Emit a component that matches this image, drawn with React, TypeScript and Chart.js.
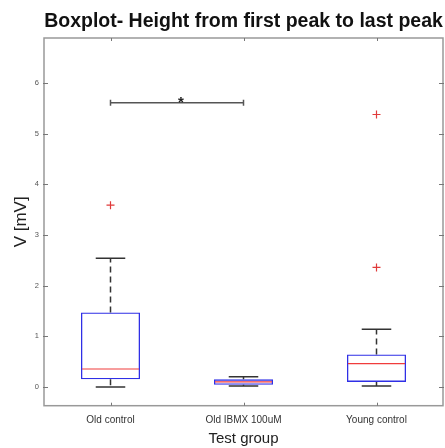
import React, { useEffect, useRef } from 'react';
import { Chart, registerables } from 'chart.js';

Chart.register(...registerables);

const titleText = 'Boxplot- Height from first peak to last peak';
const xTitle = 'Test group';
const yTitle = 'V [mV]';

const categories = ['Old control', 'Old IBMX 100uM', 'Young control'];
const q1 = [0.15, 0.045, 0.1];
const medians = [0.355, 0.1, 0.46];
const q3 = [1.47, 0.15, 0.64];
const whiskerLow = [0.0, 0.02, 0.02];
const whiskerHigh = [2.54, 0.2, 1.14];

const outlierGroups = ['Old control', 'Young control', 'Young control'];
const outlierValues = [3.59, 5.38, 2.36];

const sigFrom = ['Old control'];
const sigTo = ['Old IBMX 100uM'];
const sigLevel = [5.61];
const sigLabel = ['*'];

const yTicks = [0, 1, 2, 3, 4, 5, 6];
const yMin = -0.37;
const yMax = 6.89;

const FONT = "'Liberation Sans', Arial, Helvetica, sans-serif";

export default function App() {
  const ref = useRef<HTMLCanvasElement>(null);

  useEffect(() => {
    document.body.style.margin = '0';
    if (!ref.current) return;

    const extras = {
      id: 'boxExtras',
      beforeDatasetsDraw(chart: any) {
        const { ctx, chartArea: a, scales } = chart;
        const x = scales.x;
        const y = scales.y;
        ctx.save();
        // frame
        ctx.strokeStyle = '#999';
        ctx.lineWidth = 1.5;
        ctx.strokeRect(a.left, a.top, a.right - a.left, a.bottom - a.top);
        // inner ticks
        ctx.lineWidth = 1;
        ctx.strokeStyle = '#777';
        ctx.beginPath();
        yTicks.forEach((v) => {
          const py = Math.round(y.getPixelForValue(v)) + 0.5;
          ctx.moveTo(a.left - 1, py);
          ctx.lineTo(a.left + 4, py);
          ctx.moveTo(a.right + 1, py);
          ctx.lineTo(a.right - 4, py);
        });
        categories.forEach((_c, i) => {
          const px = Math.round(x.getPixelForValue(i)) + 0.5;
          ctx.moveTo(px, a.top);
          ctx.lineTo(px, a.top + 3);
          ctx.moveTo(px, a.bottom);
          ctx.lineTo(px, a.bottom - 3);
        });
        ctx.stroke();
        ctx.restore();
      },
      afterDatasetsDraw(chart: any) {
        const { ctx, scales } = chart;
        const x = scales.x;
        const y = scales.y;
        const meta = chart.getDatasetMeta(0);
        ctx.save();
        categories.forEach((_c, i) => {
          const bar: any = meta.data[i];
          const cx = x.getPixelForValue(i);
          const half = bar.width / 2;
          const yq1 = y.getPixelForValue(q1[i]);
          const yq3 = y.getPixelForValue(q3[i]);
          const ylo = y.getPixelForValue(whiskerLow[i]);
          const yhi = y.getPixelForValue(whiskerHigh[i]);
          const ymed = y.getPixelForValue(medians[i]);
          // dashed whiskers
          ctx.strokeStyle = '#333';
          ctx.lineWidth = 1.5;
          ctx.setLineDash([6, 4]);
          ctx.beginPath();
          ctx.moveTo(cx, yq3);
          ctx.lineTo(cx, yhi);
          ctx.moveTo(cx, yq1);
          ctx.lineTo(cx, ylo);
          ctx.stroke();
          ctx.setLineDash([]);
          // caps
          ctx.beginPath();
          ctx.moveTo(cx - half / 2, yhi);
          ctx.lineTo(cx + half / 2, yhi);
          ctx.moveTo(cx - half / 2, ylo);
          ctx.lineTo(cx + half / 2, ylo);
          ctx.stroke();
          // median
          ctx.strokeStyle = '#f03c3c';
          ctx.lineWidth = 1.1;
          ctx.beginPath();
          ctx.moveTo(cx - half + 1, ymed);
          ctx.lineTo(cx + half - 1, ymed);
          ctx.stroke();
        });
        // significance bars
        sigFrom.forEach((from, k) => {
          const x1 = x.getPixelForValue(categories.indexOf(from));
          const x2 = x.getPixelForValue(categories.indexOf(sigTo[k]));
          const py = y.getPixelForValue(sigLevel[k]);
          ctx.strokeStyle = '#555';
          ctx.lineWidth = 1.5;
          ctx.beginPath();
          ctx.moveTo(x1, py);
          ctx.lineTo(x2, py);
          ctx.moveTo(x1, py - 3);
          ctx.lineTo(x1, py + 3);
          ctx.moveTo(x2, py - 3);
          ctx.lineTo(x2, py + 3);
          ctx.stroke();
          ctx.fillStyle = '#222';
          ctx.font = `bold 15px ${FONT}`;
          ctx.textAlign = 'center';
          ctx.textBaseline = 'alphabetic';
          ctx.fillText(sigLabel[k], (x1 + x2) / 2 + 4, py + 4.3);
        });
        ctx.restore();
      },
    };

    const chart = new Chart(ref.current, {
      type: 'bar',
      data: {
        labels: categories,
        datasets: [
          {
            type: 'bar',
            data: categories.map((_c, i) => [q1[i], q3[i]]) as any,
            backgroundColor: 'rgba(0,0,0,0)',
            borderColor: '#2f2fe6',
            borderWidth: 1.3,
            borderSkipped: false,
            barPercentage: 0.444,
            categoryPercentage: 1,
          } as any,
          {
            type: 'line',
            data: outlierValues.map((v, i) => ({ x: outlierGroups[i], y: v })) as any,
            showLine: false,
            pointStyle: 'cross',
            pointRadius: 4,
            pointBorderWidth: 1.2,
            pointBorderColor: '#e03a3a',
            pointBackgroundColor: '#e03a3a',
            borderColor: '#e03a3a',
          } as any,
        ],
      },
      options: {
        responsive: false,
        maintainAspectRatio: false,
        animation: false,
        layout: { autoPadding: false, padding: { left: 0, right: 2, top: 0, bottom: 0 } },
        plugins: {
          legend: { display: false },
          tooltip: { enabled: false },
          title: {
            display: true,
            text: titleText,
            fullSize: false,
            color: '#111',
            font: { family: FONT, size: 19.5, weight: 'bold', lineHeight: 1.2 },
            padding: { top: 10, bottom: 4.6 },
          } as any,
        },
        scales: {
          x: {
            type: 'category',
            offset: true,
            grid: { display: false, drawTicks: false },
            border: { display: false },
            ticks: {
              color: '#333',
              font: { family: FONT, size: 10 },
              padding: 8.3,
              maxRotation: 0,
            },
            title: {
              display: true,
              text: xTitle,
              color: '#222',
              font: { family: FONT, size: 15, lineHeight: 1.2 },
              padding: { top: 0, bottom: 0 },
            },
            afterFit: (s: any) => {
              s.height = 42.3;
            },
          },
          y: {
            type: 'linear',
            min: yMin,
            max: yMax,
            grid: { display: false, drawTicks: false },
            border: { display: false },
            ticks: {
              color: '#555',
              font: { family: FONT, size: 7.5 },
              padding: 5,
            },
            afterBuildTicks: (s: any) => {
              s.ticks = yTicks.map((v) => ({ value: v }));
            },
            title: {
              display: true,
              text: yTitle,
              color: '#222',
              font: { family: FONT, size: 17, lineHeight: 1.2 },
              padding: { top: 11, bottom: 0 },
            },
            afterFit: (s: any) => {
              s.width = 44;
            },
          },
        },
      } as any,
      plugins: [extras],
    });

    return () => chart.destroy();
  }, []);

  return (
    <div style={{ width: 445, height: 448, position: 'relative' }}>
      <canvas ref={ref} width={445} height={448} style={{ display: 'block' }} />
    </div>
  );
}
